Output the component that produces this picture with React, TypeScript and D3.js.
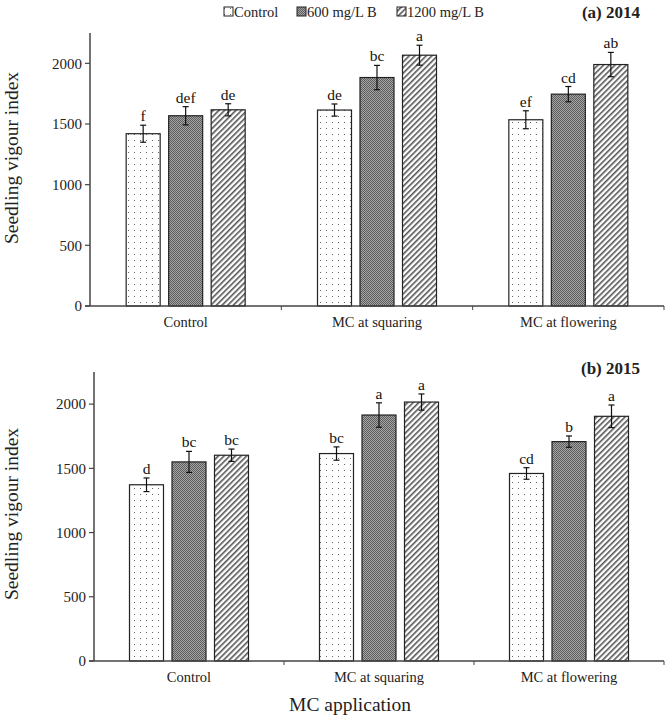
import React from 'react';
import * as d3 from 'd3';

const categories = ['Control', 'MC at squaring', 'MC at flowering'];
const series = ['Control', '600 mg/L B', '1200 mg/L B'];

// 2014
const vals2014 = [
  [1420, 1568, 1617],
  [1615, 1883, 2067],
  [1535, 1746, 1990],
];
const err2014 = [
  [70, 75, 50],
  [50, 100, 82],
  [74, 63, 100],
];
const letters2014 = [
  ['f', 'def', 'de'],
  ['de', 'bc', 'a'],
  ['ef', 'cd', 'ab'],
];

// 2015
const vals2015 = [
  [1372, 1550, 1602],
  [1615, 1915, 2016],
  [1460, 1708, 1905],
];
const err2015 = [
  [53, 82, 48],
  [52, 95, 63],
  [45, 44, 88],
];
const letters2015 = [
  ['d', 'bc', 'bc'],
  ['bc', 'a', 'a'],
  ['cd', 'b', 'a'],
];

const yTicks = [0, 500, 1000, 1500, 2000];

const FONT = "'Liberation Serif', 'Times New Roman', serif";
const AXIS = '#444';
const fills = ['url(#dots)', 'url(#dark)', 'url(#hatch)'];

const Panel = ({ left, right, top, bottom, vals, errs, letters, tag, titleY }) => {
  const x0 = d3.scaleBand().domain(categories).range([left, right]).padding(0);
  const x1 = d3.scaleBand().domain(series).range([-59.5, 59.5]).paddingInner(0.2).paddingOuter(0);
  const y = d3.scaleLinear().domain([0, 2250]).range([bottom, top]);
  const bounds = [left, ...categories.map(c => x0(c) + x0.bandwidth())];

  return (
    <g>
      {/* bars */}
      {categories.map((c, i) => {
        const cx = x0(c) + x0.bandwidth() / 2;
        return series.map((s, j) => {
          const v = vals[i][j];
          const e = errs[i][j];
          const bx = cx + x1(s);
          const mid = bx + x1.bandwidth() / 2;
          return (
            <g key={c + s}>
              <rect x={bx} y={y(v)} width={x1.bandwidth()} height={bottom - y(v)}
                fill={fills[j]} stroke="#222" strokeWidth={1.2} />
              <line x1={mid} x2={mid} y1={y(v + e)} y2={y(v - e)} stroke="#111" strokeWidth={1.2} />
              <line x1={mid - 3} x2={mid + 3} y1={y(v + e)} y2={y(v + e)} stroke="#111" strokeWidth={1.2} />
              <line x1={mid - 3} x2={mid + 3} y1={y(v - e)} y2={y(v - e)} stroke="#111" strokeWidth={1.2} />
              <text x={mid} y={y(v + e) - 4} textAnchor="middle" fontSize={15.5} fontFamily={FONT} fill="#111">
                {letters[i][j]}
              </text>
            </g>
          );
        });
      })}

      {/* y axis */}
      <line x1={left} x2={left} y1={top} y2={bottom} stroke={AXIS} strokeWidth={1.5} />
      {yTicks.map(t => (
        <g key={t}>
          <line x1={left - 5} x2={left} y1={y(t)} y2={y(t)} stroke={AXIS} strokeWidth={1.2} />
          <text x={left - 8} y={y(t)} dy="0.35em" textAnchor="end" fontSize={15} fontFamily={FONT} fill="#222">
            {t}
          </text>
        </g>
      ))}

      {/* x axis */}
      <line x1={left - 5} x2={right} y1={bottom} y2={bottom} stroke={AXIS} strokeWidth={1.5} />
      {bounds.slice(1).map(b => (
        <line key={b} x1={b} x2={b} y1={bottom} y2={bottom + 4} stroke={AXIS} strokeWidth={1} />
      ))}
      {categories.map(c => (
        <text key={c} x={x0(c) + x0.bandwidth() / 2} y={bottom + 21} textAnchor="middle"
          fontSize={14.5} fontFamily={FONT} fill="#222">{c}</text>
      ))}

      <text transform={`translate(18,${titleY}) rotate(-90)`} textAnchor="middle"
        fontSize={19.5} fontFamily={FONT} fill="#222">Seedling vigour index</text>
      <text x={640} y={tag.y} textAnchor="end" fontSize={17} fontWeight="bold" fontFamily={FONT} fill="#222">
        {tag.text}
      </text>
    </g>
  );
};

const Legend = () => {
  const xs = [224, 297, 397];
  return (
    <g>
      {series.map((s, i) => (
        <g key={s}>
          <rect x={xs[i]} y={7} width={9} height={9} fill={fills[i]} stroke="#222" strokeWidth={1} />
          <text x={xs[i] + 10} y={17} fontSize={14.5} fontFamily={FONT} fill="#222">{s}</text>
        </g>
      ))}
    </g>
  );
};

export default function App() {
  return (
    <div style={{ position: 'absolute', left: 0, top: 0 }}>
      <svg width={666} height={721} style={{ display: 'block', background: '#fff' }}>
        <defs>
          <pattern id="dots" width={6} height={6} patternUnits="userSpaceOnUse">
            <rect width={6} height={6} fill="#fff" />
            <rect x={2} y={2} width={1} height={1} fill="#666" />
          </pattern>
          <pattern id="dark" width={2} height={2} patternUnits="userSpaceOnUse">
            <rect width={2} height={2} fill="#a4a4a4" />
            <rect width={1} height={1} fill="#5e5e5e" />
            <rect x={1} y={1} width={1} height={1} fill="#5e5e5e" />
          </pattern>
          <pattern id="hatch" width={4} height={4} patternUnits="userSpaceOnUse" patternTransform="rotate(45)">
            <rect width={4} height={4} fill="#fff" />
            <rect width={1.6} height={4} fill="#555" />
          </pattern>
        </defs>
        <Legend />
        <Panel left={90} right={664} top={33} bottom={306}
          vals={vals2014} errs={err2014} letters={letters2014}
          tag={{ text: '(a) 2014', y: 18 }} titleY={158} />
        <Panel left={94} right={664} top={372} bottom={661}
          vals={vals2015} errs={err2015} letters={letters2015}
          tag={{ text: '(b) 2015', y: 374 }} titleY={514} />
        <text x={350} y={711} textAnchor="middle" fontSize={19.5} fontFamily={FONT} fill="#222">MC application</text>
      </svg>
    </div>
  );
}
